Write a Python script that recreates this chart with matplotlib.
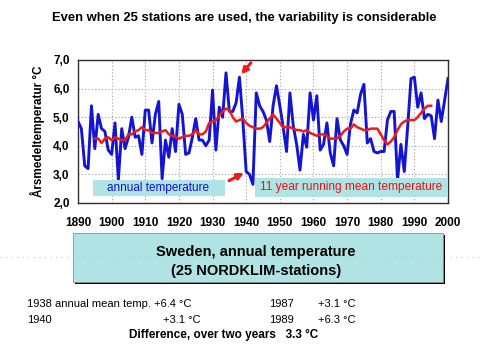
import matplotlib
matplotlib.use("Agg")
import matplotlib.pyplot as plt
import matplotlib.patches as patches
import numpy as np

plt.rcParams['font.family'] = ['Liberation Sans', 'DejaVu Sans']

# annual mean temperature, Sweden (25 NORDKLIM stations)
years = list(range(1890, 2001))
annual_temp = [
    4.85, 4.6, 3.3, 3.2, 5.4, 3.9, 5.1, 4.6, 4.5, 3.85,      # 1890-1899
    3.7, 4.8, 2.8, 4.6, 3.9, 4.3, 5.0, 4.3, 4.35, 3.7,       # 1900-1909
    5.25, 5.25, 4.1, 5.1, 5.55, 2.85, 4.2, 3.6, 4.6, 3.8,    # 1910-1919
    5.45, 5.1, 3.7, 3.75, 4.3, 4.95, 4.2, 4.2, 4.0, 4.2,     # 1920-1929
    5.95, 3.85, 5.35, 5.0, 6.55, 5.2, 5.2, 5.5, 6.4, 4.9,    # 1930-1939
    3.1, 3.0, 2.65, 5.85, 5.4, 5.2, 4.9, 4.15, 5.4, 6.1,     # 1940-1949
    5.4, 4.65, 3.8, 5.85, 4.7, 4.05, 3.15, 4.4, 3.95, 5.85,  # 1950-1959
    4.9, 5.75, 3.85, 4.05, 4.8, 3.75, 3.3, 4.95, 4.2, 4.0,   # 1960-1969
    3.7, 4.75, 5.25, 5.15, 5.8, 6.15, 4.1, 4.25, 3.8, 3.75,  # 1970-1979
    3.8, 3.8, 4.9, 5.2, 5.2, 2.8, 4.05, 3.1, 4.65, 6.35,     # 1980-1989
    6.4, 5.35, 5.85, 4.95, 5.1, 5.05, 4.25, 5.6, 4.85, 5.6,  # 1990-1999
    6.35,                                                    # 2000
]

# 11 year running mean
mean_years = list(range(1895, 1996))
running_mean = [
    4.25, 4.25, 4.1, 4.25, 4.3,                              # 1895-1899
    4.2, 4.3, 4.25, 4.2, 4.2, 4.4, 4.4, 4.5, 4.55, 4.65,     # 1900-1909
    4.55, 4.55, 4.45, 4.45, 4.45, 4.5, 4.55, 4.4, 4.35, 4.3, # 1910-1919
    4.25, 4.3, 4.35, 4.35, 4.4, 4.55, 4.4, 4.4, 4.5, 4.8,    # 1920-1929
    4.85, 4.9, 5.05, 5.2, 5.3, 5.25, 5.0, 4.85, 4.9, 4.95,   # 1930-1939
    4.8, 4.7, 4.65, 4.6, 4.6, 4.65, 4.8, 4.95, 5.1, 4.95,    # 1940-1949
    4.8, 4.65, 4.65, 4.65, 4.6, 4.55, 4.55, 4.5, 4.55, 4.45, # 1950-1959
    4.4, 4.35, 4.4, 4.4, 4.35, 4.25, 4.25, 4.25, 4.35, 4.5,  # 1960-1969
    4.6, 4.6, 4.75, 4.65, 4.6, 4.55, 4.55, 4.6, 4.6, 4.6,    # 1970-1979
    4.4, 4.2, 4.05, 4.15, 4.3, 4.55, 4.75, 4.85, 4.9, 4.9,   # 1980-1989
    4.9, 5.0, 5.15, 5.3, 5.4, 5.4,                           # 1990-1995
]

x_ticks = list(range(1890, 2001, 10))
y_ticks = [2.0, 3.0, 4.0, 5.0, 6.0, 7.0]
y_tick_labels = ["2,0", "3,0", "4,0", "5,0", "6,0", "7,0"]

W, H = 481, 361
BOX = '#b0e3e3'


def fx(px):
    return px / W


def fy(py):
    return 1 - py / H


fig = plt.figure(figsize=(W / 100, H / 100), dpi=100)
fig.patch.set_facecolor('white')

ax = fig.add_axes([fx(78), fy(203), fx(448) - fx(78), fy(60) - fy(203)])
ax.set_xlim(1890, 2000)
ax.set_ylim(2.0, 7.0)

ax.grid(True, color='#a0a0a0', linestyle=(0, (1, 2)), linewidth=0.8)
ax.set_axisbelow(True)

ax.plot(years, annual_temp, color='#1515d0', linewidth=2.1, zorder=3)
ax.plot(mean_years, running_mean, color='#ee1a1a', linewidth=1.8, zorder=4)

ax.set_xticks(x_ticks)
ax.set_xticklabels([str(t) for t in x_ticks], fontsize=8.5, fontweight='bold')
ax.set_yticks(y_ticks)
ax.set_yticklabels(y_tick_labels, fontsize=8.5, fontweight='bold')
ax.tick_params(axis='both', length=0, pad=6)
ax.tick_params(axis='x', pad=10)
for s in ax.spines.values():
    s.set_color('#303030')
    s.set_linewidth(1.0)

ax.set_ylabel("Årsmedeltemperatur °C", fontsize=8.5, fontweight='bold', labelpad=6)

# labels inside the plot, on pale boxes
ax.add_patch(patches.Rectangle((1894.5, 2.25), 39.2, 0.56, facecolor=BOX,
                               edgecolor='none', zorder=5))
ax.text(1913.9, 2.53, "annual temperature", color='#1010e0', fontsize=8.5,
        va='center', ha='center', zorder=6)
ax.add_patch(patches.Rectangle((1942.6, 2.22), 57.4, 0.65, facecolor=BOX,
                               edgecolor='none', zorder=5))
ax.text(1971.3, 2.55, "11 year running mean temperature", color='#ee1111',
        fontsize=8.6, va='center', ha='center', zorder=6)

# arrows pointing at 1938 and 1940
arrow = dict(arrowstyle='-|>', color='#ee1a1a', lw=2.2, mutation_scale=9,
             shrinkA=0, shrinkB=0)
ax.annotate('', xy=(1938.5, 6.5), xytext=(1941.4, 6.9), arrowprops=arrow,
            annotation_clip=False)
ax.annotate('', xy=(1939.3, 3.05), xytext=(1934.9, 2.78), arrowprops=arrow)

# top title
fig.text(fx(244), fy(18), "Even when 25 stations are used, the variability is considerable",
         ha='center', va='center', fontsize=9.4, fontweight='bold')

# faint dotted line behind the title box
fig.add_artist(plt.Line2D([0, 1], [fy(257), fy(257)], color='#c8c8c8',
                          linestyle=(0, (1, 4)), linewidth=0.8))

# title box with shadow
fig.add_artist(patches.Rectangle((fx(75), fy(284)), fx(443) - fx(73), fy(233) - fy(282),
                                 facecolor='black', edgecolor='none'))
fig.add_artist(patches.Rectangle((fx(73), fy(282)), fx(443) - fx(73), fy(233) - fy(282),
                                 facecolor=BOX, edgecolor='#909090', linewidth=0.6))
fig.text(fx(256), fy(252), "Sweden, annual temperature", ha='center', va='center',
         fontsize=10.5, fontweight='bold')
fig.text(fx(256), fy(271), "(25 NORDKLIM-stations)", ha='center', va='center',
         fontsize=10.5, fontweight='bold')

# notes below
fs = 8
fig.text(fx(27), fy(304), "1938 annual mean temp. +6.4 °C", va='center', fontsize=fs)
fig.text(fx(269), fy(304), "1987", va='center', fontsize=fs)
fig.text(fx(318), fy(304), "+3.1 °C", va='center', fontsize=fs)
fig.text(fx(27), fy(320), "1940", va='center', fontsize=fs)
fig.text(fx(163), fy(320), "+3.1 °C", va='center', fontsize=fs)
fig.text(fx(269), fy(320), "1989", va='center', fontsize=fs)
fig.text(fx(318), fy(320), "+6.3 °C", va='center', fontsize=fs)
fig.text(fx(224), fy(335), "Difference, over two years   3.3 °C", ha='center',
         va='center', fontsize=8.5, fontweight='bold')

fig.savefig("out.png", dpi=100)
